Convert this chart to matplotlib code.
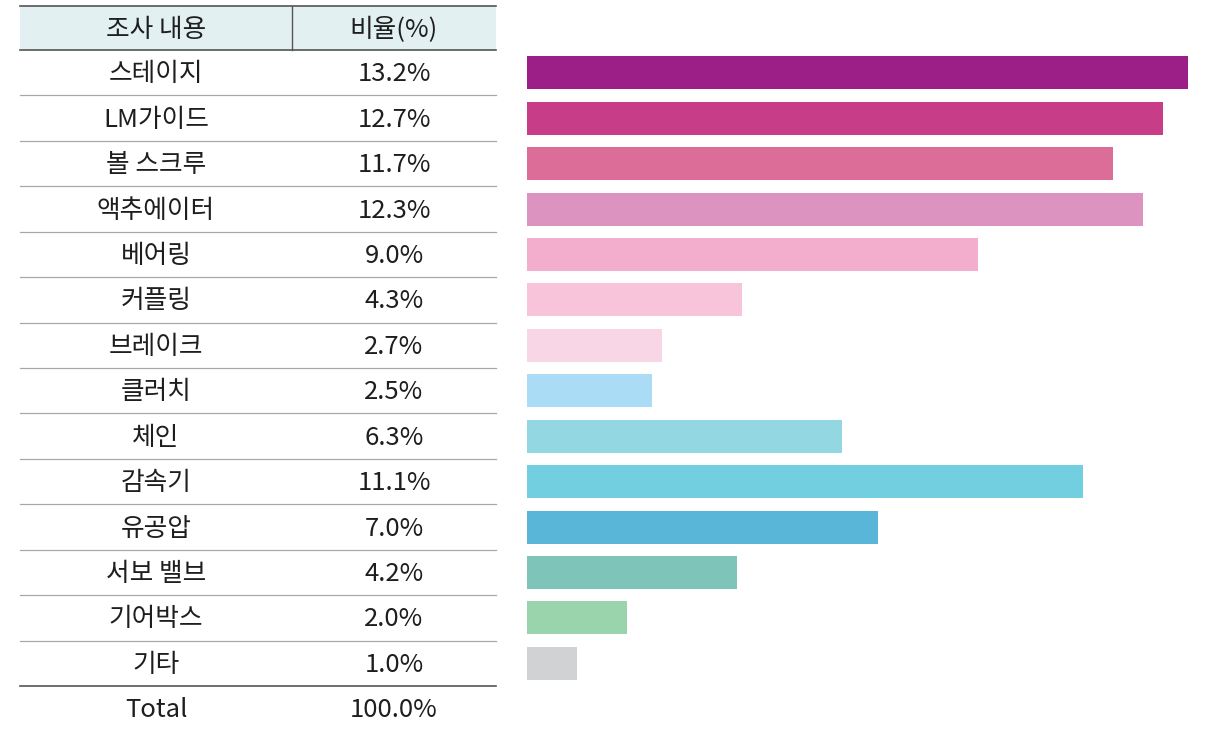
import matplotlib
matplotlib.use("Agg")
import matplotlib.pyplot as plt
from matplotlib.patches import Rectangle

plt.rcParams['font.family'] = ['Noto Sans CJK KR', 'DejaVu Sans']

categories = ["스테이지", "LM가이드", "볼 스크루", "액추에이터", "베어링", "커플링", "브레이크",
              "클러치", "체인", "감속기", "유공압", "서보 밸브", "기어박스", "기타"]
values = [13.2, 12.7, 11.7, 12.3, 9.0, 4.3, 2.7, 2.5, 6.3, 11.1, 7.0, 4.2, 2.0, 1.0]
total_label = "100.0%"
header = ["조사 내용", "비율(%)"]
colors = ["#9B1F87", "#C73D88", "#DC6D99", "#DC93C0", "#F3ADCD", "#F7C4D9", "#F8D6E6",
          "#AADDF5", "#93D7E3", "#72CFE0", "#5AB6D8", "#7FC4B8", "#9AD4AC", "#D1D2D4"]

W, H = 1210, 729
fig = plt.figure(figsize=(W / 100, H / 100), dpi=100)

# Table axes in pixel coordinates
tab = fig.add_axes([0, 0, 1, 1])
tab.set_xlim(0, W)
tab.set_ylim(H, 0)
tab.axis('off')

x0, x1, xmid = 20, 496, 292
head_top, head_bot = 6, 50
n = len(categories)
row_h = (686 - head_bot) / n

tab.add_patch(Rectangle((x0, head_top), x1 - x0, head_bot - head_top,
                        facecolor="#E2F0F2", edgecolor="none"))
tab.plot([x0, x1], [head_top, head_top], color="#555555", lw=1.2)
tab.plot([x0, x1], [head_bot, head_bot], color="#555555", lw=1.2)
tab.plot([xmid, xmid], [head_top, head_bot], color="#555555", lw=1.0)

c1, c2 = (x0 + xmid) / 2, (xmid + x1) / 2
fs = 18.5
fw = 'medium'
tc = "#1E1E1E"
dy = 1.5
tab.text(c1, (head_top + head_bot) / 2 + dy, header[0], ha='center', va='center', fontsize=fs, color=tc, fontweight=fw)
tab.text(c2, (head_top + head_bot) / 2 + dy, header[1], ha='center', va='center', fontsize=fs, color=tc, fontweight=fw)

for i, (cat, v) in enumerate(zip(categories, values)):
    yc = head_bot + (i + 0.5) * row_h + dy
    tab.text(c1, yc, cat, ha='center', va='center', fontsize=fs, color=tc, fontweight=fw)
    tab.text(c2, yc, f"{v:.1f}%", ha='center', va='center', fontsize=fs, color=tc, fontweight=fw)
    yl = head_bot + (i + 1) * row_h
    if i < n - 1:
        tab.plot([x0, x1], [yl, yl], color="#A8A8A8", lw=0.9)
    else:
        tab.plot([x0, x1], [yl, yl], color="#555555", lw=1.2)

yt = 686 + row_h / 2 + dy
tab.text(c1, yt, "Total", ha='center', va='center', fontsize=fs, color=tc, fontweight=fw)
tab.text(c2, yt, total_label, ha='center', va='center', fontsize=fs, color=tc, fontweight=fw)

# Bar axes
bx0, bx1 = 527, 1188
ax = fig.add_axes([bx0 / W, 1 - 686 / H, (bx1 - bx0) / W, (686 - head_bot) / H])
ax.barh(range(n), values, height=33 / row_h, color=colors, left=0)
ax.set_xlim(0, max(values))
ax.set_ylim(n - 0.5, -0.5)
ax.axis('off')

fig.savefig("out.png", dpi=100)
